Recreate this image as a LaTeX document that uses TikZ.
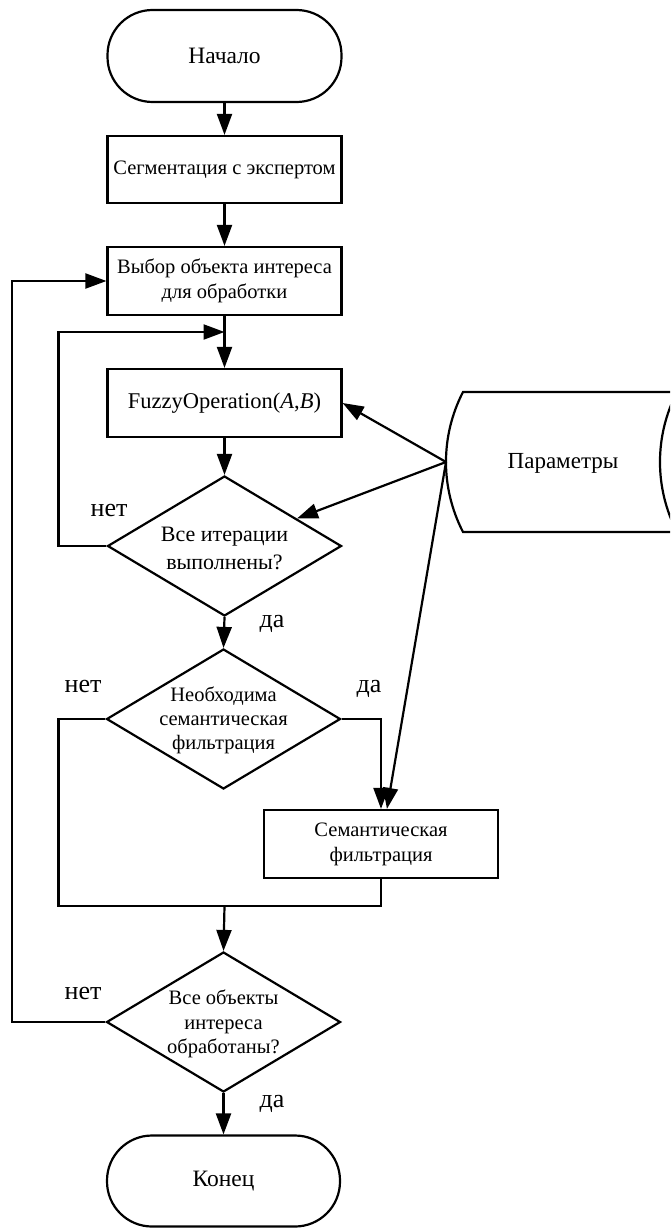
\documentclass[tikz,border=0pt]{standalone}
\usepackage{fontspec}
\setmainfont{Liberation Serif}
\usetikzlibrary{shapes.geometric,arrows.meta}
\begin{document}
\begin{tikzpicture}[x=1pt,y=-1pt, line width=2.2pt,
  txt/.style={font=\fontsize{20.5}{24.5}\selectfont, align=center, inner sep=0pt},
  lbl/.style={font=\fontsize{26}{30}\selectfont, inner sep=0pt},
  box/.style={draw, rectangle, minimum width=234pt, minimum height=68pt, inner sep=0pt, font=\fontsize{20.5}{25}\selectfont, align=center},
  term/.style={draw, rectangle, rounded corners=45pt, minimum width=234pt, minimum height=92pt, inner sep=0pt, font=\fontsize{23.5}{25}\selectfont},
  dec/.style={draw, diamond, minimum width=234pt, minimum height=140pt, inner sep=0pt},
  arr/.style={-{Triangle[length=21pt,width=15pt]}}
]
\useasboundingbox (0,0) rectangle (670,1228);
\clip (0,0) rectangle (670,1228);

% nodes
\node[term] (start) at (224.5,56) {Начало};
\node[box, minimum height=67pt] (seg) at (224.5,169.5) {Сегментация с экспертом};
\node[box] (sel) at (224.5,281) {Выбор объекта интереса\\для обработки};
\node[box, font=\fontsize{22.5}{25}\selectfont] (fuzzy) at (224.5,403) {FuzzyOperation(\textit{A},\textit{B})};
\node[dec] (d1) at (224.5,546) {};
\node[txt, font=\fontsize{22}{28}\selectfont] (d1t) at (224.5,548) {Все итерации\\выполнены?};
\node[dec] (d2) at (223.5,719) {};
\node[txt, font=\fontsize{20.5}{24}\selectfont] (d2t) at (223.5,720) {Необходима\\семантическая\\фильтрация};
\node[box] (sem) at (381,844) {Семантическая\\фильтрация};
\node[dec] (d3) at (223.5,1022) {};
\node[txt] (d3t) at (223.5,1024) {Все объекты\\интереса\\обработаны?};
\node[term, minimum width=233pt, minimum height=91pt] (end) at (223.5,1181) {Конец};

% stored data shape
\draw (677,392) -- (463,392)
  .. controls (440.3,435.9) and (440.3,488.1) .. (463,532) -- (677,532)
  .. controls (654.3,488.1) and (654.3,435.9) .. (677,392);
\coordinate (pl) at (446,462);
\node[font=\fontsize{23}{25}\selectfont, inner sep=0pt] (ptext) at (563,463) {Параметры};

% junctions
\coordinate (j1) at (224.5,332);
\coordinate (j2) at (224.5,906);

% connectors
\draw[arr] (start.south) -- (seg.north);
\draw[arr] (seg.south) -- (sel.north);
\draw[arr] (sel.south) -- (fuzzy.north);
\draw[arr] (fuzzy.south) -- (d1.north);
\draw[arr] (d1.west) -- ++(-48,0) |- (j1);
\draw[arr] (d1.south) -- (d2.north);
\draw[arr] (d2.east) -| (sem.north);
\draw (d2.west) -- ++(-47,0) |- (sem.south |- j2) -- (sem.south);
\draw[arr] (j2) -- (d3.north);
\draw[arr] (d3.west) -- ++(-93.5,0) |- (sel.west);
\draw[arr] (d3.south) -- (end.north);
\draw[arr] (pl) -- (fuzzy.east);
\draw[arr] (pl) -- (d1);
\draw[arr] (pl) -- (sem);

% labels
\node[lbl] (n1) at (109,510) {нет};
\node[lbl] (y1) at (272,624) {да};
\node[lbl] (n2) at (83,686) {нет};
\node[lbl] (y2) at (369,689) {да};
\node[lbl] (n3) at (83,993) {нет};
\node[lbl] (y3) at (272,1104) {да};
\end{tikzpicture}
\end{document}
